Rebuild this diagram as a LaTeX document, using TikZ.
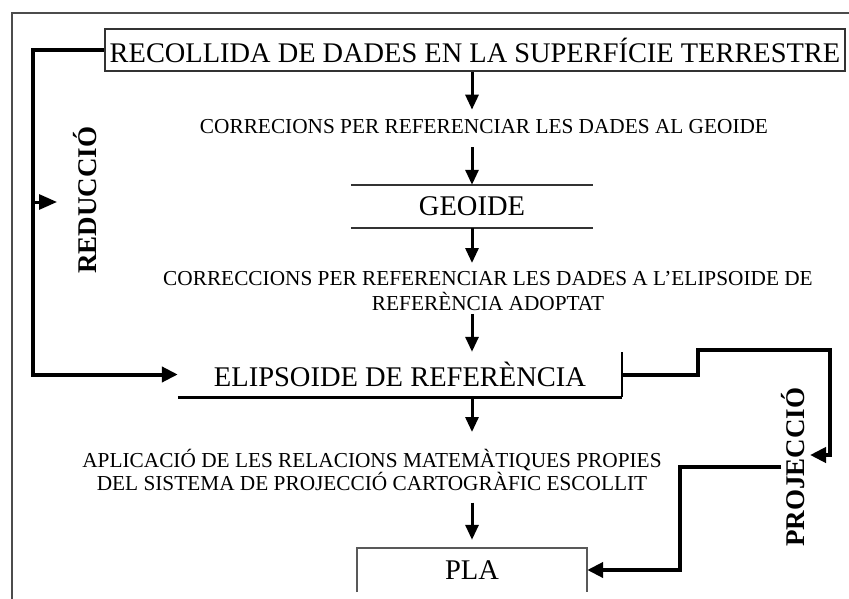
\documentclass[tikz,border=0pt]{standalone}
\usepackage{fontspec}
\setmainfont{Liberation Serif}
\usetikzlibrary{arrows.meta}
\begin{document}
\begin{tikzpicture}[x=1pt,y=-1pt,
  txt/.style={inner sep=0pt, align=center, font=\fontsize{21.3}{20}\selectfont},
  big/.style={inner sep=0pt, font=\fontsize{28.5}{30}\selectfont},
  side/.style={inner sep=0pt, rotate=90, font=\fontsize{27}{30}\selectfont\bfseries},
  conn/.style={line width=4pt, line join=miter, -{Triangle[width=15pt,length=16pt]}},
  arr/.style={line width=3pt, -{Triangle[width=13pt,length=15pt]}},
  frame/.style={line width=2pt, black!70}]
\useasboundingbox (0,0) rectangle (849,599);
% outer frame (clipped at right and bottom)
\draw[frame] (12,599) -- (12,13) -- (849,13);

% nodes
\node[big, draw=black!80, line width=2pt, minimum width=740pt, minimum height=42pt,
      font=\fontsize{28.4}{30}\selectfont] (top) at (475,50)
      {RECOLLIDA DE DADES EN LA SUPERFÍCIE TERRESTRE};
\node[txt] (corr1) at (484,127) {CORRECIONS PER REFERENCIAR LES DADES AL GEOIDE};
\node[big, minimum width=242pt, minimum height=43pt] (geo) at (472,206.5) {GEOIDE};
\node[txt, anchor=north, font=\fontsize{21.3}{25}\selectfont] (corr2) at (488,271)
      {CORRECCIONS PER REFERENCIAR LES DADES A L'ELIPSOIDE DE\\REFERÈNCIA ADOPTAT};
\node[big, minimum width=444pt, minimum height=45pt] (elip) at (400,374.5) {ELIPSOIDE DE REFERÈNCIA};
\node[txt, anchor=north] (aplic) at (372,449)
      {APLICACIÓ DE LES RELACIONS MATEMÀTIQUES PROPIES\\DEL SISTEMA DE PROJECCIÓ CARTOGRÀFIC ESCOLLIT};
\node[big, minimum width=230pt, minimum height=44pt] (pla) at (472,570) {PLA};
\node[side] (redu) at (85,200) {REDUCCIÓ};
\node[side] (proj) at (793,467) {PROJECCIÓ};

% partial box outlines
\draw[line width=2pt, black!80] (geo.north west) -- (geo.north east)
                                (geo.south west) -- (geo.south east);
\draw[line width=3pt] (elip.south west) -- (elip.south east);
\draw[line width=2pt] (elip.south east) -- (elip.north east);
\draw[line width=2pt, black!65] (pla.south west) -- (pla.north west) -- (pla.north east) -- (pla.south east);

% main vertical arrows
\draw[arr, shorten >=10pt] (top.south -| geo.center) -- (corr1.north -| geo.center);
\draw[arr, shorten <=13pt] (corr1.south -| geo.center) -- (geo.north);
\draw[arr, shorten >=8pt] (geo.south) -- (corr2.north -| geo.center);
\draw[arr, shorten <=3pt] (corr2.south -| geo.center) -- (elip.north -| geo.center);
\draw[arr, shorten >=17pt] (elip.south -| geo.center) -- (aplic.north -| geo.center);
\draw[arr, shorten <=12pt, shorten >=8pt] (aplic.south -| geo.center) -- (pla.north);

% reduction connector
\draw[conn] (top.west) -| ([xshift=-145pt]elip.west) -- (elip.west);
\coordinate (m1) at (33,202);
\draw[line width=3pt, -{Triangle[width=15pt,length=18pt]}] (m1) -- ++(24,0);

% projection connector
\draw[conn] (elip.east) -- (698,374.5) -- (698,350) -- (830,350) -- (830,455) -- (810,455);
\draw[conn] (proj.north) -- (680,467) -- (680,570) -- (pla.east);
\end{tikzpicture}
\end{document}
